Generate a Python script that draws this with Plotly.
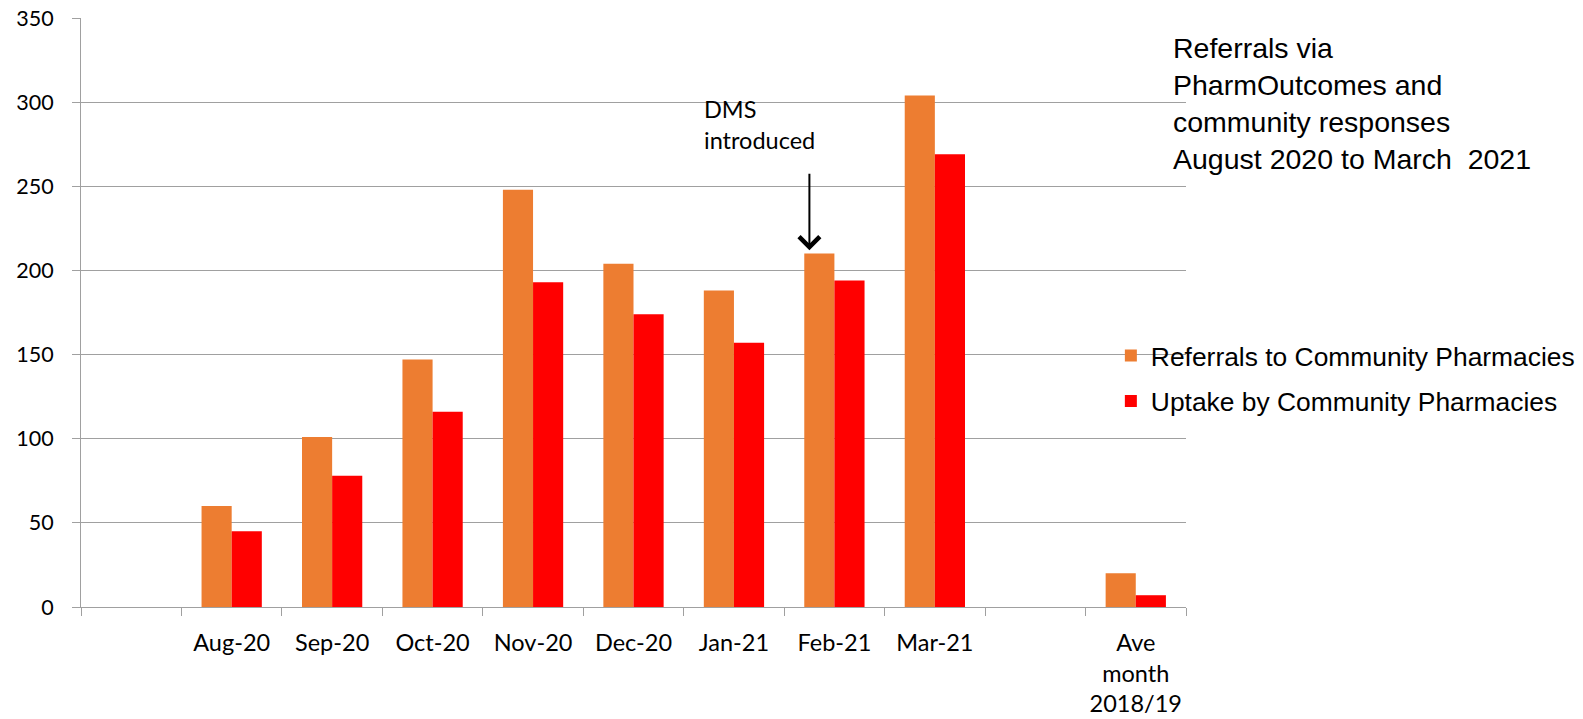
import plotly.graph_objects as go

categories = [" ", "Aug-20", "Sep-20", "Oct-20", "Nov-20", "Dec-20", "Jan-21",
              "Feb-21", "Mar-21", "  ", "Ave<br>month<br>2018/19"]
referrals = [None, 60, 101, 147, 248, 204, 188, 210, 304, None, 20]
uptake = [None, 45, 78, 116, 193, 174, 157, 194, 269, None, 7]
series_names = ["Referrals to Community Pharmacies", "Uptake by Community Pharmacies"]
y_ticks = [0, 50, 100, 150, 200, 250, 300, 350]
title_text = "Referrals via<br>PharmOutcomes and<br>community responses<br>August 2020 to March  2021"
dms_text = "DMS<br>introduced"

ORANGE = "#ED7D31"
RED = "#FF0000"
GRID = "#A0A0A0"
TICK_FONT = dict(family="Lato", size=23.5, color="#000000")

fig = go.Figure()
fig.add_trace(go.Bar(x=categories, y=referrals, name=series_names[0],
                     marker=dict(color=ORANGE, line=dict(width=0)), legendgroup="a"))
fig.add_trace(go.Bar(x=categories, y=uptake, name=series_names[1],
                     marker=dict(color=RED, line=dict(width=0)), legendgroup="b"))

fig.update_layout(
    width=1583, height=719,
    margin=dict(l=81, r=397, t=18, b=112, autoexpand=False),
    paper_bgcolor="white", plot_bgcolor="white",
    barmode="group", bargap=0.4, bargroupgap=0,
    showlegend=True,
    legend=dict(x=0.932, xanchor="left", y=0.467, yanchor="top",
                font=dict(family="Liberation Sans", size=26.4, color="#000000"),
                tracegroupgap=8, bgcolor="rgba(0,0,0,0)"),
    xaxis=dict(type="category", categoryorder="array", categoryarray=categories,
               showline=True, linecolor=GRID, linewidth=1, automargin=False,
               ticks="outside", tickson="boundaries", ticklen=8, tickcolor=GRID,
               tickangle=0, tickfont=TICK_FONT, ticklabelstandoff=15,
               showgrid=False, zeroline=False),
    yaxis=dict(range=[0, 350], tickvals=y_ticks, showgrid=True, gridcolor=GRID,
               gridwidth=1, showline=True, linecolor=GRID, linewidth=1,
               automargin=False, ticklabelstandoff=14, ticklabeloverflow="allow",
               ticks="outside", ticklen=8, tickcolor=GRID,
               tickfont=dict(family="Lato", size=21.5, color="#000000"),
               zeroline=False),
)

# Title text at right
fig.add_annotation(text=title_text, xref="paper", yref="paper", x=0.986, y=0.98,
                   xanchor="left", yanchor="top", align="left", showarrow=False,
                   font=dict(family="Liberation Sans", size=28.5, color="#000000"))

# DMS introduced label
fig.add_annotation(text=dms_text, xref="x", yref="y", x="Feb-21", y=287,
                   xshift=-75, xanchor="center", yanchor="middle", align="left",
                   showarrow=False, font=dict(family="Lato", size=23.5, color="#000000"))

# Arrow pointing at Feb-21
fig.add_annotation(text="", xref="x", yref="y", x="Feb-21", y=212, xshift=-25,
                   showarrow=True, ax=0, ay=-78, arrowhead=4, arrowsize=2,
                   arrowwidth=2, arrowcolor="#000000")

fig.write_html(
    "out.html",
    config={"displayModeBar": False},
    post_script="document.body.style.margin='0';document.body.style.overflow='hidden';",
)
